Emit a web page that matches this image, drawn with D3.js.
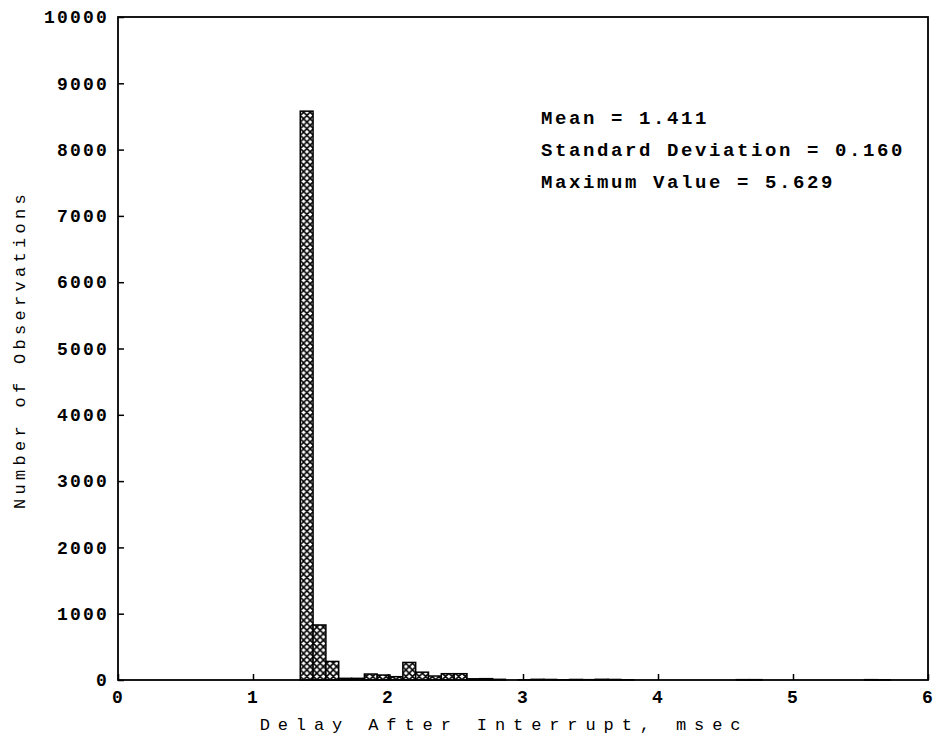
<!DOCTYPE html>
<html>
<head>
<meta charset="utf-8">
<script src="https://cdn.jsdelivr.net/npm/d3@7"></script>
<style>
  body { margin: 0; background: #fff; }
  svg { display: block; }
</style>
</head>
<body>
<div id="chart"></div>
<script>
// Data
const binStart = 1.35
const binWidth = 0.095
const counts = [
  8580, 830, 280, 25, 25, 90, 75, 50, 265, 118,
  60, 95, 95, 18, 20, 10, 0, 3, 10, 8,
  3, 8, 5, 10, 8, 3, 0, 0, 0, 0,
  0, 0, 0, 0, 5, 5, 0, 0, 0, 0,
  0, 0, 0, 0, 5, 3
]
const xTicks = [0, 1, 2, 3, 4, 5, 6]
const yTicks = [0, 1000, 2000, 3000, 4000, 5000, 6000, 7000, 8000, 9000, 10000]
const statsLines = [
  'Mean = 1.411',
  'Standard Deviation = 0.160',
  'Maximum Value = 5.629'
]

const bins = counts.map((c, i) => ({
  x0: binStart + i * binWidth,
  x1: binStart + (i + 1) * binWidth,
  count: c
}))

// Dimensions
let dimensions = {
  width: 940,
  height: 738,
  left: 118,
  right: 928,
  top: 17,
  bottom: 680
}

const svg = d3.select('#chart')
  .append('svg')
  .attr('width', dimensions.width)
  .attr('height', dimensions.height)

// crosshatch fill
const defs = svg.append('defs')
const pat = defs.append('pattern')
  .attr('id', 'hatch')
  .attr('patternUnits', 'userSpaceOnUse')
  .attr('width', 6.6)
  .attr('height', 6.6)
pat.append('rect')
  .attr('width', 6.6).attr('height', 6.6).attr('fill', '#fff')
pat.append('path')
  .attr('d', 'M0,0L6.6,6.6M6.6,0L0,6.6M-1,1L1,-1M5.6,7.6L7.6,5.6')
  .attr('stroke', '#000')
  .attr('stroke-width', 1.6)

// Scales
const x = d3.scaleLinear()
  .domain([0, 6])
  .range([dimensions.left, dimensions.right])

const y = d3.scaleLinear()
  .domain([0, 10000])
  .range([dimensions.bottom, dimensions.top])

// bars
svg.append('g')
  .selectAll('rect')
  .data(bins.filter(d => d.count > 0))
  .join('rect')
  .attr('x', d => x(d.x0))
  .attr('width', d => x(d.x1) - x(d.x0))
  .attr('y', d => y(d.count))
  .attr('height', d => y(0) - y(d.count))
  .attr('fill', 'url(#hatch)')
  .attr('stroke', '#000')
  .attr('stroke-width', 1.5)

// frame
svg.append('rect')
  .attr('x', dimensions.left)
  .attr('y', dimensions.top)
  .attr('width', dimensions.right - dimensions.left)
  .attr('height', dimensions.bottom - dimensions.top)
  .attr('fill', 'none')
  .attr('stroke', '#000')
  .attr('stroke-width', 1.8)

const monoFont = '"Liberation Mono", "DejaVu Sans Mono", monospace'

// axes
const xAxis = d3.axisBottom(x)
  .tickValues(xTicks)
  .tickSize(-6)
  .tickPadding(9)
  .tickFormat(d3.format('d'))

const yAxis = d3.axisLeft(y)
  .tickValues(yTicks)
  .tickSize(-6)
  .tickPadding(11)
  .tickFormat(d3.format('d'))

const xg = svg.append('g')
  .attr('transform', `translate(0, ${dimensions.bottom})`)
  .call(xAxis)
const yg = svg.append('g')
  .attr('transform', `translate(${dimensions.left}, 0)`)
  .call(yAxis)

;[xg, yg].forEach(g => {
  g.select('.domain').remove()
  g.selectAll('.tick line').attr('stroke', '#000').attr('stroke-width', 1.5)
  g.selectAll('.tick text')
    .attr('fill', '#000')
    .style('font-family', monoFont)
    .style('font-weight', 'bold')
    .style('font-size', '18px')
    .style('letter-spacing', '2.2px')
})
xg.selectAll('.tick text').attr('dy', '0.75em')
yg.selectAll('.tick text').attr('dx', '2px')

// axis titles
svg.append('text')
  .attr('x', 504)
  .attr('y', 730)
  .attr('text-anchor', 'middle')
  .style('font-family', monoFont)
  .style('font-size', '17px')
  .style('letter-spacing', '7.9px')
  .text('Delay After Interrupt, msec')

svg.append('text')
  .attr('transform', `translate(25, ${(dimensions.top + dimensions.bottom) / 2 + 1}) rotate(-90)`)
  .attr('text-anchor', 'middle')
  .style('font-family', monoFont)
  .style('font-size', '17px')
  .style('letter-spacing', '4.3px')
  .text('Number of Observations')

// stats text
svg.append('g')
  .selectAll('text')
  .data(statsLines)
  .join('text')
  .attr('x', 541)
  .attr('y', (d, i) => 124 + i * 32)
  .style('font-family', monoFont)
  .style('font-weight', 'bold')
  .style('font-size', '19px')
  .style('letter-spacing', '2.6px')
  .text(d => d)
</script>
</body>
</html>
